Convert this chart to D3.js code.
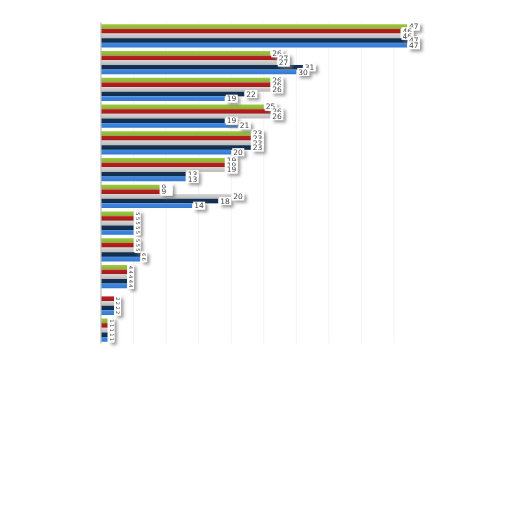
<!DOCTYPE html>
<html>
<head>
<meta charset="utf-8">
<script src="https://cdn.jsdelivr.net/npm/d3@7"></script>
<style>
  html, body { margin: 0; padding: 0; background: #fff; }
  svg { display: block; }
</style>
</head>
<body>
<div id="chart"></div>
<script>
// data
const categories = ["A", "B", "C", "D", "E", "F", "G", "H", "I", "J", "K", "L"];
const seriesNames = ["green", "red", "grey", "navy", "blue"];
const greenValues = [47, 26, 26, 25, 23, 19, 9, 5, 5, 4, 0, 1];
const redValues   = [46, 27, 26, 26, 23, 19, 9, 5, 5, 4, 2, 1];
const greyValues  = [46, 27, 26, 26, 23, 19, 20, 5, 5, 4, 2, 1];
const navyValues  = [47, 31, 22, 19, 23, 13, 18, 5, 6, 4, 2, 1];
const blueValues  = [47, 30, 19, 21, 20, 13, 14, 5, 6, 4, 2, 1];

const colors = ["#8fba38", "#ad1c1c", "#c4c4c4", "#132f4f", "#3a7fd6"];
const allValues = [greenValues, redValues, greyValues, navyValues, blueValues];

const width = 512, height = 512;

const rows = [];
categories.forEach((c, i) => {
    seriesNames.forEach((s, j) => {
        rows.push({ cat: c, series: s, idx: j, value: allValues[j][i] });
    });
});

const x = d3.scaleLinear().domain([0, 47]).range([101, 407]);

const y0 = d3.scaleBand()
    .domain(categories)
    .range([22.5, 343.5])
    .paddingInner(0.13)
    .paddingOuter(0.065);

const y1 = d3.scaleBand()
    .domain(seriesNames)
    .range([0, y0.bandwidth()]);

const svg = d3.select("#chart").append("svg")
    .attr("width", width)
    .attr("height", height);

const defs = svg.append("defs");

// slight gloss on each bar colour
colors.forEach((c, j) => {
    const g = defs.append("linearGradient")
        .attr("id", "grad" + j)
        .attr("x1", 0).attr("y1", 0).attr("x2", 0).attr("y2", 1);
    g.append("stop").attr("offset", "0%").attr("stop-color", d3.color(c).brighter(0.25));
    g.append("stop").attr("offset", "100%").attr("stop-color", d3.color(c).darker(0.15));
});

const shadow = defs.append("filter")
    .attr("id", "labelShadow")
    .attr("x", "-50%").attr("y", "-50%")
    .attr("width", "200%").attr("height", "200%");
shadow.append("feDropShadow")
    .attr("dx", 2.5).attr("dy", 2.5)
    .attr("stdDeviation", 1.6)
    .attr("flood-color", "#777")
    .attr("flood-opacity", 0.7);

// very faint vertical grid
svg.append("g")
    .selectAll("line")
    .data(d3.range(5, 50, 5))
    .join("line")
    .attr("x1", d => x(d)).attr("x2", d => x(d))
    .attr("y1", y0.range()[0]).attr("y2", y0.range()[1])
    .attr("stroke", "#f3f3f3")
    .attr("stroke-width", 1);

// bars
svg.append("g")
    .selectAll("rect")
    .data(rows)
    .join("rect")
    .attr("x", x(0))
    .attr("y", d => y0(d.cat) + y1(d.series))
    .attr("width", d => Math.max(0, x(d.value) - x(0)))
    .attr("height", y1.bandwidth())
    .attr("fill", d => "url(#grad" + d.idx + ")");

// left axis line
svg.append("line")
    .attr("x1", x(0)).attr("x2", x(0))
    .attr("y1", y0.range()[0]).attr("y2", y0.range()[1])
    .attr("stroke", "#b8b8b8")
    .attr("stroke-width", 1.2);

// value labels with white boxes and a soft shadow
const labelRows = rows.filter(d => d.value > 0);
const labels = svg.append("g")
    .attr("filter", "url(#labelShadow)")
    .style("font-family", "DejaVu Sans, Verdana, sans-serif");

const lab = labels.selectAll("g")
    .data(labelRows)
    .join("g")
    .attr("transform", d => {
        const cy = y0(d.cat) + y1(d.series) + y1.bandwidth() / 2;
        if (d.value < 7) return `translate(${x(d.value) + 4},${cy}) rotate(90)`;
        return `translate(${x(d.value) + 1},${cy})`;
    });

lab.append("rect")
    .attr("x", d => d.value < 7 ? -3 : 0)
    .attr("y", d => d.value < 7 ? -3 : -4)
    .attr("width", d => d.value < 7 ? 6 : 12)
    .attr("height", d => d.value < 7 ? 6 : 8)
    .attr("fill", "#fff");

lab.append("text")
    .attr("x", d => d.value < 7 ? 0 : 1)
    .attr("dy", "0.35em")
    .attr("text-anchor", d => d.value < 7 ? "middle" : "start")
    .style("font-size", d => d.value < 7 ? "5px" : "7.5px")
    .attr("fill", "#444")
    .text(d => d.value);
</script>
</body>
</html>
